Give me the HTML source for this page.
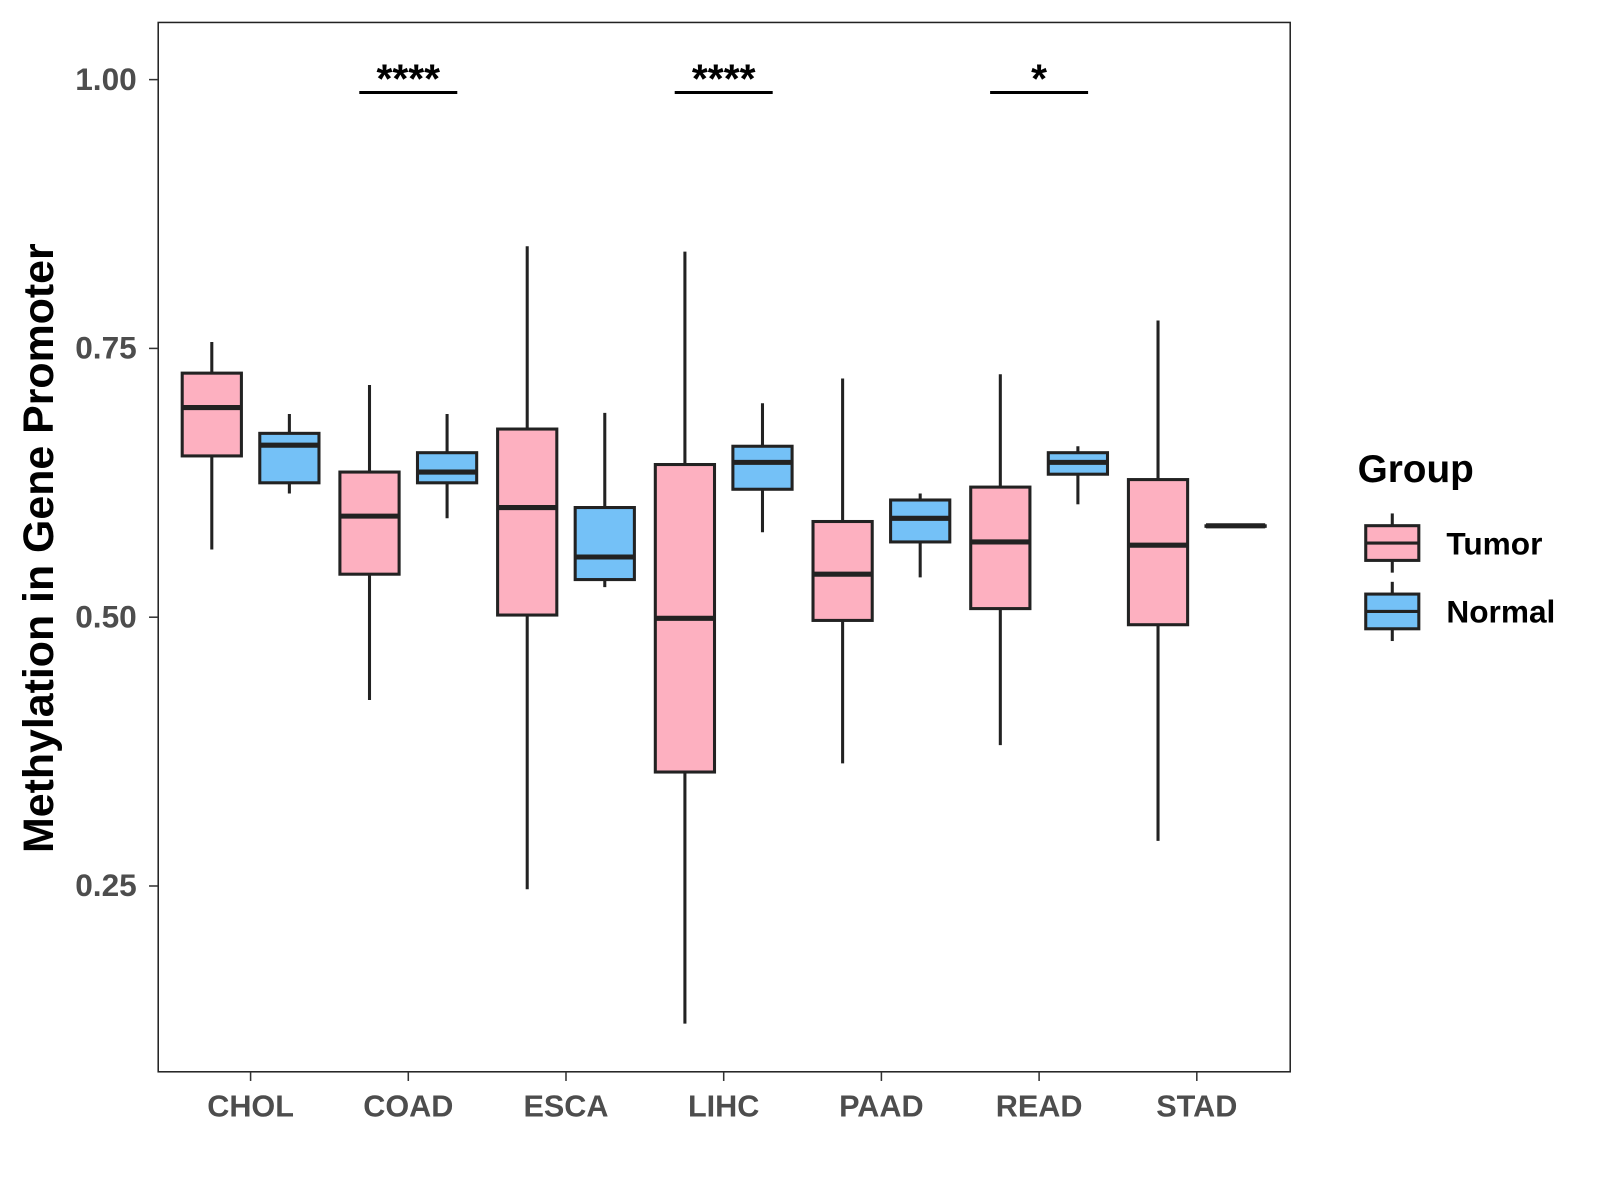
<!DOCTYPE html>
<html><head><meta charset="utf-8"><style>
html,body{margin:0;padding:0;background:#fff}
svg{display:block}
text{font-family:"Liberation Sans",Arial,sans-serif;font-weight:bold}
</style></head><body>
<svg id="chart" width="1600" height="1200" viewBox="0 0 1567.5 1175.6" preserveAspectRatio="none" xmlns="http://www.w3.org/2000/svg">
<rect x="155" y="22" width="1109" height="1028" fill="#fff" stroke="#222" stroke-width="1.5"/>
<g id="marks"></g>
<text transform="translate(52,537) rotate(-90)" text-anchor="middle" font-size="42" fill="#000">Methylation in Gene Promoter</text>
<g>
<text x="1330" y="472" font-size="38" fill="#000">Group</text>
<g>
<line x1="1364" y1="503" x2="1364" y2="561" stroke="#222" stroke-width="3"/>
<rect x="1338" y="515" width="52" height="34" fill="#fdb0c0" stroke="#222" stroke-width="3"/>
<line x1="1338" y1="532" x2="1390" y2="532" stroke="#222" stroke-width="3"/>
<text x="1417" y="543" font-size="31" fill="#000">Tumor</text></g>
<g>
<line x1="1364" y1="570" x2="1364" y2="628" stroke="#222" stroke-width="3"/>
<rect x="1338" y="582" width="52" height="34" fill="#74c1f7" stroke="#222" stroke-width="3"/>
<line x1="1338" y1="599" x2="1390" y2="599" stroke="#222" stroke-width="3"/>
<text x="1417" y="610" font-size="31" fill="#000">Normal</text></g>
</g>
</svg>
<script>
const categories=["CHOL","COAD","ESCA","LIHC","PAAD","READ","STAD"];
// [lowerWhisker, Q1, median, Q3, upperWhisker]
const tumorStats=[[0.563,0.650,0.695,0.727,0.756],[0.423,0.540,0.594,0.635,0.716],[0.247,0.502,0.602,0.675,0.845],[0.122,0.356,0.499,0.642,0.840],[0.364,0.497,0.540,0.589,0.722],[0.381,0.508,0.570,0.621,0.726],[0.292,0.493,0.567,0.628,0.776]];
const normalStats=[[0.615,0.625,0.660,0.671,0.689],[0.592,0.625,0.635,0.653,0.689],[0.528,0.535,0.556,0.602,0.690],[0.579,0.619,0.644,0.659,0.699],[0.537,0.570,0.592,0.609,0.615],[0.605,0.633,0.644,0.653,0.659],[0.585,0.585,0.585,0.585,0.585]];
const yTicks=[0.25,0.50,0.75,1.00];
const yTickLabels=["0.25","0.50","0.75","1.00"];
const sigLabels=["","****","","****","","*",""];
const sigY=0.988;

const NS="http://www.w3.org/2000/svg";
const svg=document.getElementById('marks');
function y(v){return 78+(1-v)*1053.3;}
function xc(i){return 245.5+i*154.5;}
function mk(tag,attrs,parent){const e=document.createElementNS(NS,tag);for(const k in attrs)e.setAttribute(k,attrs[k]);(parent||svg).appendChild(e);return e;}
yTicks.forEach((t,i)=>{
  const l=mk('line',{x1:146,x2:155,y1:y(t),y2:y(t),stroke:'#333','stroke-width':1.5});
  
  
  const tx=mk('text',{x:134,y:y(t)+10,'text-anchor':'end','font-size':31,fill:'#4d4d4d'});
  tx.textContent=yTickLabels[i];
  
  
});
categories.forEach((c,i)=>{
  const l=mk('line',{x1:xc(i),x2:xc(i),y1:1050,y2:1059,stroke:'#333','stroke-width':1.5});
  
  
  const tx=mk('text',{x:xc(i),y:1094,'text-anchor':'middle','font-size':30,fill:'#4d4d4d'});
  tx.textContent=c;
  
  
  [[tumorStats[i],-38,'#fdb0c0','tumor'],[normalStats[i],38,'#74c1f7','normal']].forEach(([s,off,col,nm])=>{
    const g=mk('g',{});
    
    
    const cx=xc(i)+off,w=58;
    mk('line',{x1:cx,x2:cx,y1:y(s[0]),y2:y(s[4]),stroke:'#222','stroke-width':3},g);
    mk('rect',{x:cx-w/2,y:y(s[3]),width:w,height:Math.max(0.5,y(s[1])-y(s[3])),fill:col,stroke:'#222','stroke-width':3},g);
    mk('line',{x1:cx-w/2,x2:cx+w/2,y1:y(s[2]),y2:y(s[2]),stroke:'#222','stroke-width':5},g);
  });
  if(sigLabels[i]){
    const g=mk('g',{});
    
    
    mk('line',{x1:xc(i)-48,x2:xc(i)+48,y1:y(sigY),y2:y(sigY),stroke:'#000','stroke-width':3},g);
    const t=mk('text',{x:xc(i),y:y(sigY),'text-anchor':'middle','font-size':40,fill:'#000'},g);
    t.textContent=sigLabels[i];
  }
});
</script>
</body></html>
